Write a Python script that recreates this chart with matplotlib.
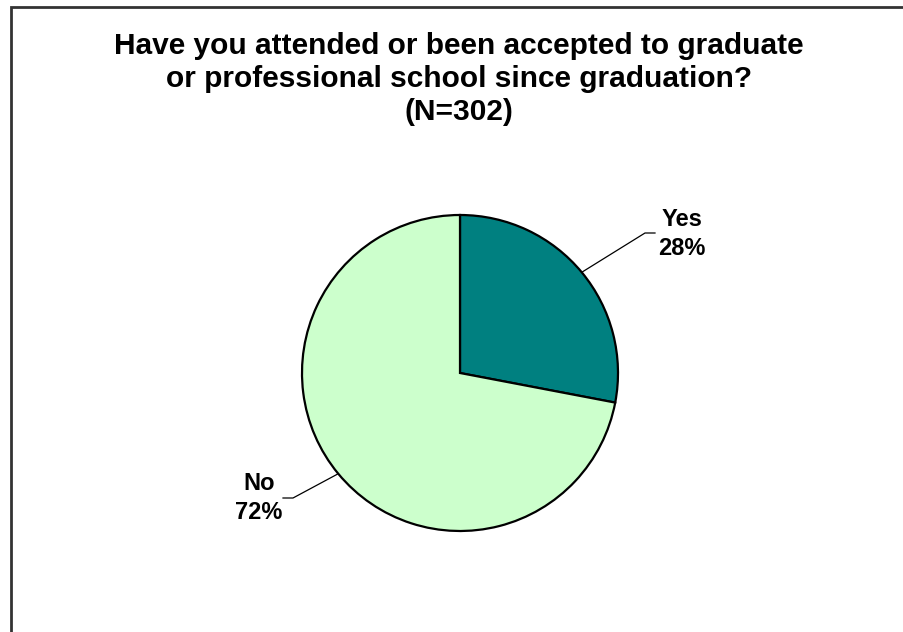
import numpy as np
import matplotlib.pyplot as plt
from matplotlib.patches import Rectangle

labels = ["Yes", "No"]
values = [28, 72]
colors = ["#008080", "#CCFFCC"]
title = ("Have you attended or been accepted to graduate\n"
         "or professional school since graduation?\n(N=302)")

plt.rcParams['font.family'] = ['Liberation Sans', 'DejaVu Sans']

W, H = 904, 632
fig = plt.figure(figsize=(W / 100, H / 100), dpi=100)
ax = fig.add_axes([0, 0, 1, 1])
ax.set_xlim(0, W)
ax.set_ylim(0, H)
ax.set_aspect('equal')
ax.axis('off')

# outer chart frame (runs off the right and bottom edges)
ax.add_patch(Rectangle((11, -20), W, H - 7 + 20, fill=False,
                       edgecolor='#333333', linewidth=2))

cx, cy, r = 460, H - 373, 158
wedges, _ = ax.pie(values, colors=colors, startangle=90, counterclock=False,
                   center=(cx, cy), radius=r,
                   wedgeprops=dict(edgecolor='black', linewidth=1.6))
ax.set_xlim(0, W)
ax.set_ylim(0, H)

ax.text(459, H - 79, title, ha='center', va='center', fontsize=21.5,
        fontweight='bold', linespacing=1.22)

# label anchor (text centre, elbow of leader line, horizontal tail end)
label_pos = {"Yes": ((682, H - 234), (645, H - 233), (655, H - 233)),
             "No": ((259, H - 498), (293, H - 498), (283, H - 498))}

for w, lab, v in zip(wedges, labels, values):
    mid = np.deg2rad((w.theta1 + w.theta2) / 2)
    px, py = cx + r * np.cos(mid), cy + r * np.sin(mid)
    (tx, ty), elbow, tail = label_pos[lab]
    ax.plot([px, elbow[0], tail[0]], [py, elbow[1], tail[1]],
            color='black', linewidth=0.9)
    ax.text(tx, ty, f"{lab}\n{v}%", ha='center', va='center', fontsize=17,
            fontweight='bold', linespacing=1.38)

fig.savefig("out.png", dpi=100)
